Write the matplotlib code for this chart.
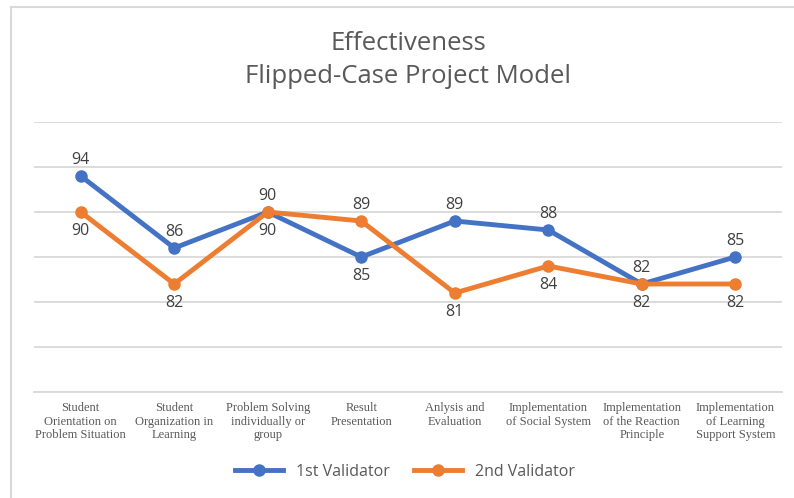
import matplotlib.pyplot as plt
from matplotlib.patches import Rectangle

categories = [
    "Student\nOrientation on\nProblem Situation",
    "Student\nOrganization in\nLearning",
    "Problem Solving\nindividually or\ngroup",
    "Result\nPresentation",
    "Anlysis and\nEvaluation",
    "Implementation\nof Social System",
    "Implementation\nof the Reaction\nPrinciple",
    "Implementation\nof Learning\nSupport System",
]
validator_1 = [94, 86, 90, 85, 89, 88, 82, 85]
validator_2 = [90, 82, 90, 89, 81, 84, 82, 82]
# label placement: True = above the point
above_1 = [True, True, True, False, True, True, True, True]
above_2 = [False, False, False, True, False, False, False, False]

blue = "#4472C4"
orange = "#ED7D31"
text_col = "#404040"

fig = plt.figure(figsize=(7.94, 4.98), dpi=100)
ax = fig.add_axes([34 / 794, 106 / 498, 748 / 794, 270 / 498])

# chart frame
fig.patches.append(Rectangle((11 / 794, -0.1), 1.2, (498 - 7) / 498 + 0.1,
                             transform=fig.transFigure, fill=False,
                             edgecolor="#d9d9d9", linewidth=1.5))

x = list(range(len(categories)))
ax.plot(x, validator_1, color=blue, linewidth=3.5, marker="o", markersize=8,
        label="1st Validator", zorder=3)
ax.plot(x, validator_2, color=orange, linewidth=3.5, marker="o", markersize=8,
        label="2nd Validator", zorder=3)

for xs, ys, ups in [(x, validator_1, above_1), (x, validator_2, above_2)]:
    for xi, yi, up in zip(xs, ys, ups):
        ax.annotate(str(yi), (xi, yi), xytext=(0, 6 if up else -8),
                    textcoords="offset points", ha="center",
                    va="bottom" if up else "top", fontsize=11.5,
                    color=text_col, family="Open Sans")

ax.set_xlim(-0.5, len(categories) - 0.5)
ax.set_ylim(70, 100)
ax.set_yticks(range(70, 101, 5))
ax.yaxis.grid(True, color="#d9d9d9", linewidth=1.3)
ax.set_axisbelow(True)
ax.tick_params(axis="y", left=False, labelleft=False)
ax.tick_params(axis="x", length=0, pad=7)
ax.set_xticks(x)
ax.set_xticklabels(categories, family="Liberation Serif", fontsize=9,
                   color="#595959", linespacing=1.2)
for side in ["left", "right", "top"]:
    ax.spines[side].set_visible(False)
ax.spines["bottom"].set_color("#d9d9d9")
ax.spines["bottom"].set_linewidth(1.3)

fig.text(408 / 794, 1 - 60 / 498, "Effectiveness\nFlipped-Case Project Model",
         ha="center", va="center", fontsize=18.5, color="#595959",
         family="Open Sans", linespacing=1.45)

fig.legend(loc="center", bbox_to_anchor=(405 / 794, 1 - 472 / 498), ncol=2,
           frameon=False, handlelength=3, columnspacing=1.5,
           prop={"family": "Open Sans", "size": 11.5}, labelcolor="#595959")

fig.savefig("out.png", dpi=100)
plt.close(fig)
